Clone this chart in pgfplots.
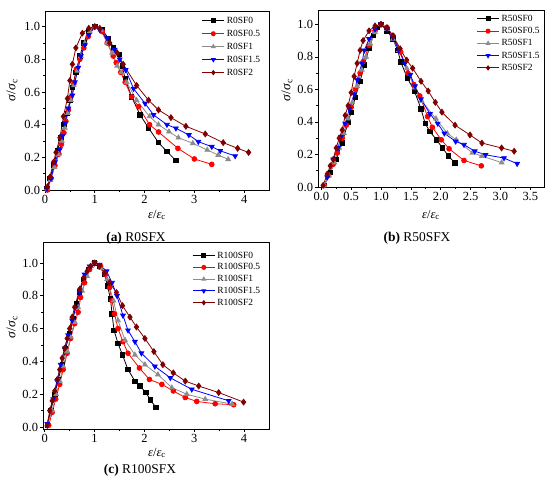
\documentclass[border=0pt]{standalone}
\usepackage{pgfplots}
\pgfplotsset{compat=1.18}
\usepackage{fontspec}
\setmainfont{Liberation Serif}
\definecolor{dred}{RGB}{128,0,0}
\definecolor{gry}{RGB}{140,140,140}
\pgfplotsset{
  panel/.style={
    scale only axis,
    axis line style={line width=0.7pt},
    tick align=outside,
    xtick pos=left, ytick pos=left,
    minor x tick num=1, minor y tick num=1,
    major tick length=3pt, minor tick length=1.8pt,
    tick style={line width=0.6pt, black},
    /pgf/number format/assume math mode=true,
    tick label style={font=\fontsize{12.5}{13}\selectfont},
    yticklabel style={xshift=1.5pt, /pgf/number format/.cd,fixed,fixed zerofill,precision=1},
    xticklabel style={yshift=1pt},
    ytick={0,0.2,0.4,0.6,0.8,1.0},
    legend cell align=left,
    legend style={draw=none, fill=none, font=\fontsize{9.5}{10}\selectfont,
      row sep=1.2pt, inner sep=1pt},
    legend image code/.code={%
      \draw[mark repeat=2,mark phase=2,line width=1pt,mark size=2pt]
        plot coordinates {(0bp,0bp)(11bp,0bp)(22bp,0bp)};},
    every axis plot/.append style={line width=0.8pt, mark size=2.4pt},
  },
  s0/.style={black, mark=square*, mark size=2.2pt},
  s05/.style={red, mark=*},
  s1/.style={gry, mark=triangle*, mark size=2.7pt},
  s15/.style={blue, mark=triangle*, mark size=2.7pt, mark options={rotate=180}},
  s2/.style={dred, mark=diamond*, mark size=2.9pt},
}
\begin{document}
\begin{tikzpicture}[x=1bp,y=1bp]
\path[use as bounding box] (0,0) rectangle (550,485);
% ---------------- (a) ----------------
\begin{axis}[panel, at={(45bp,295bp)}, anchor=south west,
  width=224bp, height=179bp, xmin=0, xmax=4.5, ymin=0, ymax=1.096,
  xtick={0,1,2,3,4},
  legend style={at={(0.975,0.985)}, anchor=north east}]
\addplot[s0] coordinates {(0.03,0.01)(0.1,0.07)(0.17,0.15)(0.25,0.24)(0.32,0.32)(0.38,0.40)(0.45,0.47)(0.5,0.55)(0.55,0.63)(0.62,0.72)(0.7,0.82)(0.78,0.90)(0.87,0.97)(1,1)(1.15,0.98)(1.27,0.93)(1.38,0.87)(1.49,0.83)(1.55,0.76)(1.61,0.68)(1.74,0.57)(1.91,0.46)(2.08,0.38)(2.28,0.29)(2.45,0.235)(2.63,0.18)};
\addplot[s05] coordinates {(0.05,0.0)(0.12,0.07)(0.2,0.15)(0.28,0.22)(0.33,0.28)(0.38,0.35)(0.42,0.42)(0.47,0.49)(0.52,0.57)(0.58,0.65)(0.63,0.74)(0.7,0.80)(0.78,0.87)(0.87,0.94)(1,1)(1.15,0.97)(1.25,0.90)(1.37,0.82)(1.43,0.78)(1.52,0.72)(1.61,0.66)(1.74,0.57)(1.88,0.51)(2.1,0.40)(2.28,0.355)(2.67,0.255)(3.0,0.19)(3.35,0.157)};
\addplot[s1] coordinates {(0.04,0.01)(0.11,0.06)(0.19,0.14)(0.27,0.22)(0.34,0.30)(0.4,0.38)(0.46,0.47)(0.52,0.55)(0.58,0.64)(0.65,0.73)(0.72,0.82)(0.8,0.90)(0.9,0.97)(1,1)(1.12,0.98)(1.25,0.90)(1.35,0.84)(1.45,0.76)(1.53,0.72)(1.64,0.66)(1.84,0.55)(2.1,0.45)(2.28,0.40)(2.49,0.357)(2.68,0.32)(2.97,0.286)(3.26,0.245)(3.48,0.214)(3.68,0.188)};
\addplot[s15] coordinates {(0.04,0.01)(0.12,0.07)(0.2,0.17)(0.3,0.25)(0.35,0.33)(0.4,0.41)(0.47,0.50)(0.55,0.58)(0.6,0.66)(0.67,0.75)(0.72,0.82)(0.8,0.89)(0.88,0.95)(1,1)(1.1,0.98)(1.25,0.93)(1.4,0.86)(1.5,0.80)(1.62,0.735)(1.78,0.62)(2.01,0.53)(2.18,0.46)(2.45,0.40)(2.63,0.378)(2.89,0.337)(3.08,0.296)(3.35,0.265)(3.52,0.24)(3.82,0.208)};
\addplot[s2] coordinates {(0.05,0.02)(0.1,0.08)(0.17,0.17)(0.22,0.23)(0.3,0.32)(0.37,0.45)(0.45,0.56)(0.5,0.67)(0.55,0.77)(0.62,0.87)(0.75,0.96)(0.88,0.99)(1,1)(1.1,0.99)(1.3,0.90)(1.45,0.84)(1.57,0.77)(1.84,0.64)(2.08,0.55)(2.28,0.49)(2.53,0.443)(2.83,0.39)(3.22,0.343)(3.58,0.29)(3.87,0.255)(4.09,0.23)};
\legend{R0SF0,R0SF0.5,R0SF1,R0SF1.5,R0SF2}
\end{axis}
% ---------------- (b) ----------------
\begin{axis}[panel, at={(318bp,298bp)}, anchor=south west,
  width=226bp, height=177bp, xmin=-0.055, xmax=3.73, ymin=0, ymax=1.088,
  xtick={0,0.5,1,1.5,2,2.5,3,3.5},
  xticklabel style={/pgf/number format/.cd,fixed,fixed zerofill,precision=1},
  legend style={at={(0.995,0.99)}, anchor=north east, row sep=0.5pt}]
\addplot[s0] coordinates {(0.05,0.01)(0.15,0.09)(0.25,0.17)(0.35,0.27)(0.45,0.40)(0.5,0.46)(0.57,0.55)(0.65,0.65)(0.72,0.75)(0.8,0.85)(0.87,0.93)(0.93,0.98)(1,1)(1.1,0.96)(1.2,0.91)(1.28,0.84)(1.33,0.77)(1.44,0.67)(1.56,0.59)(1.67,0.48)(1.74,0.39)(1.82,0.34)(1.93,0.29)(2.03,0.24)(2.13,0.19)(2.24,0.147)};
\addplot[s05] coordinates {(0.05,0.01)(0.12,0.07)(0.2,0.14)(0.27,0.21)(0.35,0.30)(0.42,0.38)(0.5,0.49)(0.57,0.60)(0.65,0.70)(0.7,0.77)(0.8,0.87)(0.9,0.96)(1,1)(1.1,0.98)(1.2,0.93)(1.33,0.83)(1.45,0.70)(1.55,0.63)(1.65,0.56)(1.78,0.433)(1.86,0.367)(2.01,0.29)(2.14,0.235)(2.39,0.163)(2.68,0.13)};
\addplot[s1] coordinates {(0.05,0.01)(0.13,0.07)(0.22,0.15)(0.3,0.24)(0.38,0.33)(0.45,0.42)(0.52,0.52)(0.6,0.62)(0.68,0.72)(0.75,0.80)(0.82,0.88)(0.9,0.95)(1,1)(1.1,0.97)(1.2,0.91)(1.3,0.84)(1.43,0.73)(1.56,0.61)(1.68,0.53)(1.92,0.42)(2.11,0.33)(2.26,0.29)(2.53,0.21)(2.69,0.19)(3.02,0.15)};
\addplot[s15] coordinates {(0.1,0.06)(0.2,0.17)(0.28,0.24)(0.33,0.31)(0.4,0.39)(0.47,0.48)(0.55,0.57)(0.6,0.66)(0.68,0.76)(0.72,0.84)(0.8,0.91)(0.9,0.97)(1,1)(1.1,0.97)(1.2,0.92)(1.3,0.84)(1.4,0.76)(1.49,0.69)(1.57,0.62)(1.67,0.54)(1.82,0.45)(1.95,0.39)(2.06,0.33)(2.25,0.28)(2.39,0.26)(2.57,0.22)(2.75,0.198)(3.06,0.178)(3.28,0.143)};
\addplot[s2] coordinates {(0.03,0.01)(0.1,0.08)(0.15,0.13)(0.2,0.17)(0.25,0.24)(0.3,0.30)(0.35,0.35)(0.4,0.44)(0.45,0.50)(0.5,0.58)(0.55,0.68)(0.6,0.76)(0.65,0.84)(0.7,0.90)(0.8,0.96)(0.9,0.99)(1,1)(1.1,0.98)(1.2,0.93)(1.32,0.85)(1.43,0.78)(1.53,0.73)(1.67,0.65)(1.79,0.59)(1.91,0.52)(2.02,0.46)(2.24,0.38)(2.49,0.32)(2.69,0.27)(3.02,0.24)(3.23,0.22)};
\legend{R50SF0,R50SF0.5,R50SF1,R50SF1.5,R50SF2}
\end{axis}
% ---------------- (c) ----------------
\begin{axis}[panel, at={(43bp,56bp)}, anchor=south west,
  width=226bp, height=187bp, xmin=-0.035, xmax=4.5, ymin=-0.012, ymax=1.128,
  xtick={0,1,2,3,4},
  legend style={at={(0.975,0.965)}, anchor=north east, row sep=0pt}]
\addplot[s0] coordinates {(0.05,0.01)(0.12,0.10)(0.2,0.20)(0.27,0.29)(0.35,0.38)(0.42,0.48)(0.5,0.57)(0.57,0.66)(0.63,0.75)(0.7,0.82)(0.78,0.90)(0.87,0.96)(1,1)(1.1,0.98)(1.2,0.93)(1.26,0.86)(1.32,0.78)(1.35,0.69)(1.39,0.59)(1.47,0.51)(1.56,0.44)(1.67,0.35)(1.81,0.28)(1.91,0.25)(2.03,0.21)(2.12,0.165)(2.23,0.12)};
\addplot[s05] coordinates {(0.08,0.01)(0.15,0.09)(0.22,0.17)(0.3,0.26)(0.37,0.35)(0.45,0.45)(0.52,0.54)(0.6,0.63)(0.67,0.70)(0.72,0.79)(0.8,0.88)(0.9,0.96)(1,1)(1.12,0.98)(1.22,0.93)(1.3,0.85)(1.35,0.77)(1.4,0.69)(1.47,0.60)(1.57,0.52)(1.67,0.45)(1.9,0.36)(2.1,0.29)(2.35,0.26)(2.58,0.22)(2.82,0.18)(3.05,0.156)(3.42,0.142)(3.79,0.136)};
\addplot[s1] coordinates {(0.05,0.01)(0.15,0.10)(0.23,0.20)(0.3,0.28)(0.37,0.37)(0.45,0.46)(0.52,0.55)(0.6,0.64)(0.67,0.73)(0.75,0.83)(0.85,0.92)(0.93,0.98)(1,1)(1.12,0.97)(1.25,0.90)(1.38,0.77)(1.47,0.65)(1.61,0.53)(1.81,0.44)(2.01,0.38)(2.27,0.32)(2.55,0.24)(2.85,0.20)(3.22,0.17)(3.76,0.14)};
\addplot[s15] coordinates {(0.05,0.02)(0.17,0.17)(0.25,0.28)(0.32,0.38)(0.4,0.48)(0.47,0.56)(0.55,0.65)(0.62,0.73)(0.7,0.82)(0.8,0.93)(0.9,0.98)(1,1)(1.1,0.99)(1.24,0.95)(1.35,0.88)(1.45,0.80)(1.57,0.68)(1.67,0.59)(1.81,0.52)(1.94,0.45)(2.21,0.37)(2.52,0.30)(2.95,0.23)(3.69,0.16)};
\addplot[s2] coordinates {(0.05,0.01)(0.1,0.10)(0.15,0.16)(0.2,0.22)(0.25,0.29)(0.3,0.35)(0.35,0.42)(0.4,0.48)(0.45,0.54)(0.5,0.60)(0.55,0.67)(0.6,0.73)(0.7,0.84)(0.78,0.91)(0.85,0.95)(0.92,0.98)(1,1)(1.1,0.98)(1.2,0.94)(1.3,0.88)(1.44,0.82)(1.56,0.74)(1.71,0.67)(1.84,0.61)(2.01,0.54)(2.19,0.46)(2.37,0.38)(2.58,0.33)(2.82,0.28)(3.09,0.25)(3.49,0.21)(3.99,0.152)};
\legend{R100SF0,R100SF0.5,R100SF1,R100SF1.5,R100SF2}
\end{axis}
% ---------------- labels ----------------
\def\ylab{\fontsize{13.5}{14}\selectfont\textit{σ}/\textit{σ}\textsubscript{c}}
\def\xlab{\fontsize{12.5}{13}\selectfont\textit{ε}/\textit{ε}\textsubscript{c}}
\node[rotate=90] at (12,395) {\ylab};
\node[rotate=90] at (287,395) {\ylab};
\node[rotate=90] at (12,158) {\ylab};
\node at (157,270) {\xlab};
\node at (431,270) {\xlab};
\node at (157,32) {\xlab};
\node at (136,247) {\fontsize{13.5}{14}\selectfont\textbf{(a)} R0SFX};
\node at (417,247) {\fontsize{13.5}{14}\selectfont\textbf{(b)} R50SFX};
\node at (140,15) {\fontsize{13.5}{14}\selectfont\textbf{(c)} R100SFX};
\end{tikzpicture}
\end{document}
